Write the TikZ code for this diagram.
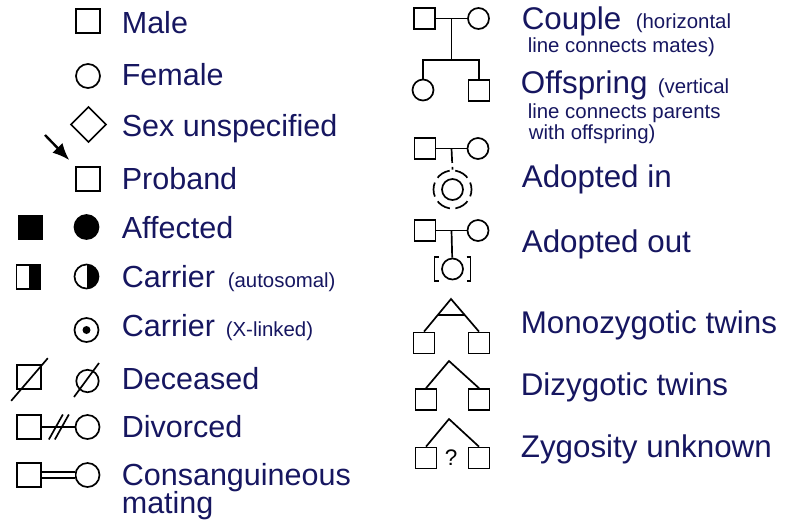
\documentclass[tikz,border=0pt]{standalone}
\usepackage{fontspec}
\setmainfont{Liberation Sans}
\usepackage{tikz}
\usetikzlibrary{arrows.meta, calc}
\definecolor{labelblue}{RGB}{22,22,96}

\begin{document}
\begin{tikzpicture}[x=0.025cm, y=-0.025cm, line width=1.2pt,
	sq/.style={draw, rectangle, inner sep=0pt, minimum size=0.6cm},
	ci/.style={draw, circle, inner sep=0pt, minimum size=0.6cm},
	sqs/.style={sq, minimum size=0.525cm},
	cis/.style={ci, minimum size=0.525cm},
	halffill/.style={path picture={\fill (path picture bounding box.north) rectangle (path picture bounding box.south east);}},
	lab/.style={anchor=base west, inner sep=0pt, text=labelblue, font=\fontsize{21.7}{25}\selectfont},
	labr/.style={lab, font=\fontsize{22.3}{26}\selectfont},
	note/.style={lab, font=\fontsize{14.5}{17}\selectfont},
	pointer/.style={line width=1.7pt, -{Latex[length=12pt, width=10pt]}, shorten >=6pt}]
	\useasboundingbox (0,0) rectangle (800,528);
	% left column
	\node[sq] (male) at (88,21) {};
	\node[lab] (tmale) at (121,33) {Male};
	\node[ci] (female) at (88,76) {};
	\node[lab] (tfemale) at (121,85) {Female};
	\node[sq, rotate=45, minimum size=0.62cm] (unspec) at (88.5,124.5) {};
	\node[lab] (tunspec) at (121,136) {Sex unspecified};
	\node[sq] (proband) at (88,179) {};
	\coordinate (pbtail) at (45,135);
	\draw[pointer] (pbtail) -- (proband.north west);
	\node[lab] (tproband) at (121,189) {Proband};
	\node[sq, fill=black] (affm) at (30.5,227.5) {};
	\node[ci, fill=black] (afff) at (86.5,227) {};
	\node[lab] (taff) at (121,238) {Affected};
	\node[sq, halffill] (carm) at (28.5,277) {};
	\node[ci, halffill] (carf) at (86.5,276.5) {};
	\node[lab] (tcar) at (121,287) {Carrier};
	\node[note] (tcarnote) at (227,287) {(autosomal)};
	\node[ci] (xcar) at (86.5,330) {};
	\node[circle, fill=black, inner sep=0pt, minimum size=0.2cm] (xdot) at (xcar.center) {};
	\node[lab] (txcar) at (121,336) {Carrier};
	\node[note] (txcarnote) at (225,336) {(X-linked)};
	\node[sq] (decm) at (29,377) {};
	\node[ci, minimum size=0.56cm] (decf) at (87.5,381) {};
	\draw ([shift={(-5,11)}]decm.south west) -- ([shift={(6,-6)}]decm.north east);
	\draw ([shift={(-13.5,16)}]decf.center) -- ([shift={(11.5,-18)}]decf.center);
	\node[lab] (tdec) at (121,389) {Deceased};
	\node[sq] (divm) at (29,427) {};
	\node[ci] (divf) at (87.5,427) {};
	\draw (divm) -- (divf);
	\foreach \dx in {14,20}
		\draw ([shift={(\dx-7,12.5)}]divm.east) -- ([shift={(\dx+7,-12.5)}]divm.east);
	\node[lab] (tdiv) at (121,437) {Divorced};
	\node[sq] (conm) at (29,475) {};
	\node[ci] (conf) at (87.5,475) {};
	\draw[double, double distance=2.8pt] (conm) -- (conf);
	\node[lab] (tcon) at (121,485) {Consanguineous};
	\node[lab] (tcon2) at (121,513) {mating};
	% right column
	\node[sqs] (cpm) at (424.5,18.5) {};
	\node[cis] (cpf) at (478.5,18.5) {};
	\draw (cpm) -- (cpf);
	\coordinate (cpmid) at ($(cpm.east)!0.5!(cpf.west)$);
	\coordinate (sib) at ($(cpmid)+(0,41.5)$);
	\node[cis] (offf) at (423,90) {};
	\node[sqs] (offm) at (479,90.5) {};
	\draw (cpmid) -- (sib);
	\draw (offf.north) |- (sib) -| (offm.north);
	\node[labr] (tcouple) at (521,29) {Couple};
	\node[note] (tcouple1) at (635,28) {(horizontal};
	\node[note] (tcouple2) at (527,52) {line connects mates)};
	\node[labr] (toff) at (520,93) {Offspring};
	\node[note] (toff1) at (657,93) {(vertical};
	\node[note] (toff2) at (527,118) {line connects parents};
	\node[note] (toff3) at (528,139) {with offspring)};
	\node[sqs] (aim) at (425,148.5) {};
	\node[cis] (aif) at (478,148.5) {};
	\draw (aim) -- (aif);
	\coordinate (aimid) at ($(aim.east)!0.5!(aif.west)$);
	\node[cis] (aichild) at (452.5,189.5) {};
	\node[circle, draw, inner sep=0pt, minimum size=0.95cm, dash pattern=on 10.2pt off 3.95pt, dash phase=5.1pt] (aiwrap) at (aichild.center) {};
	\draw[dash pattern=on 10.3pt off 2.8pt on 3.6pt off 20pt] (aimid) -- (aiwrap.north);
	\node[labr] (tai) at (521,187) {Adopted in};
	\node[sqs] (aom) at (425,230.5) {};
	\node[cis] (aof) at (478,230.5) {};
	\draw (aom) -- (aof);
	\coordinate (aomid) at ($(aom.east)!0.5!(aof.west)$);
	\node[cis] (aochild) at (452.5,269) {};
	\draw (aomid) -- (aochild);
	\draw ([shift={(-14,-12)}]aochild.center) -- ++(-4,0) -- ++(0,24) -- ++(4,0);
	\draw ([shift={(14,-12)}]aochild.center) -- ++(4,0) -- ++(0,24) -- ++(-4,0);
	\node[labr] (tao) at (521,252) {Adopted out};
	\coordinate (mzapex) at (451,299);
	\node[sqs] (mz1) at (424,343) {};
	\node[sqs] (mz2) at (479,343) {};
	\draw (mz1.north) -- (mzapex) -- (mz2.north);
	\draw ($(mzapex)!0.5!(mz1.north)$) -- ($(mzapex)!0.5!(mz2.north)$);
	\node[labr] (tmz) at (520,333) {Monozygotic twins};
	\coordinate (dzapex) at (449,361);
	\node[sqs] (dz1) at (426,399.5) {};
	\node[sqs] (dz2) at (479,399.5) {};
	\draw (dz1.north) -- (dzapex) -- (dz2.north);
	\node[labr] (tdz) at (520,395) {Dizygotic twins};
	\coordinate (unapex) at (449,419);
	\node[sqs] (un1) at (426,458) {};
	\node[sqs] (un2) at (479,458) {};
	\draw (un1.north) -- (unapex) -- (un2.north);
	\node[font=\fontsize{16}{18}\selectfont, inner sep=0pt] (unq) at (451,458) {?};
	\node[labr] (tun) at (520,457) {Zygosity unknown};
\end{tikzpicture}
\end{document}
